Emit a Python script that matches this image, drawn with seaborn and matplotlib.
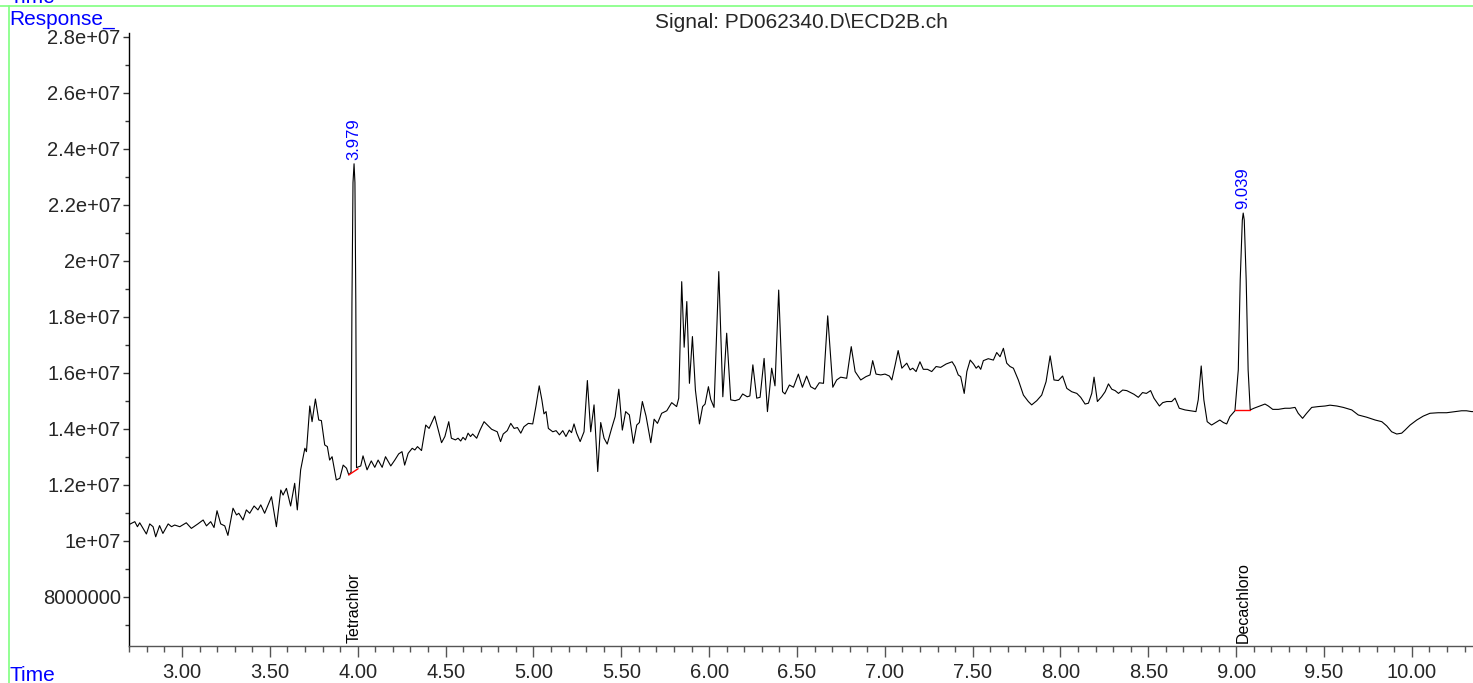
import numpy as np
import pandas as pd
import matplotlib
matplotlib.use("Agg")
import matplotlib.pyplot as plt
import matplotlib.ticker as mticker
import matplotlib.transforms as mtransforms
from matplotlib.lines import Line2D
import seaborn as sns

# Chromatogram trace: time (min) and response (millions)
tiempo = [
    2.693, 2.731, 2.746, 2.759, 2.778, 2.797, 2.816, 2.835, 2.850, 2.872,
    2.891, 2.921, 2.940, 2.958, 2.987, 3.024, 3.053, 3.090, 3.120, 3.139,
    3.163, 3.182, 3.199, 3.220, 3.243, 3.261, 3.290, 3.310, 3.323, 3.347,
    3.366, 3.385, 3.410, 3.432, 3.448, 3.470, 3.509, 3.537, 3.562, 3.575,
    3.594, 3.618, 3.641, 3.656, 3.675, 3.699, 3.708, 3.727, 3.740, 3.759,
    3.778, 3.793, 3.812, 3.827, 3.840, 3.854, 3.878, 3.898, 3.917, 3.936,
    3.949, 3.962, 3.967, 3.973, 3.979, 3.984, 3.989, 3.993,
    4.017, 4.030, 4.053, 4.077, 4.097, 4.116, 4.139, 4.158, 4.188, 4.211,
    4.233, 4.252, 4.267, 4.287, 4.310, 4.325, 4.340, 4.363, 4.387, 4.406,
    4.438, 4.477, 4.496, 4.518, 4.533, 4.556, 4.571, 4.586, 4.599, 4.613,
    4.628, 4.642, 4.654, 4.677, 4.696, 4.719, 4.743, 4.762, 4.794, 4.813,
    4.828, 4.851, 4.871, 4.890, 4.909, 4.928, 4.946, 4.971, 4.996, 5.014,
    5.033, 5.048, 5.060, 5.072, 5.085, 5.110, 5.129, 5.148, 5.167, 5.185,
    5.204, 5.217, 5.231, 5.246, 5.266, 5.288, 5.307, 5.326, 5.345, 5.366,
    5.383, 5.402, 5.420, 5.445, 5.465, 5.486, 5.506, 5.525, 5.546, 5.569,
    5.588, 5.603, 5.620, 5.641, 5.668, 5.687, 5.706, 5.730, 5.759, 5.787,
    5.815, 5.827, 5.844, 5.858, 5.873, 5.888, 5.905, 5.922, 5.945, 5.963,
    5.977, 5.996, 6.009, 6.028, 6.055, 6.078, 6.100, 6.123, 6.148, 6.172,
    6.191, 6.217, 6.232, 6.249, 6.271, 6.290, 6.313, 6.332, 6.356, 6.375,
    6.396, 6.418, 6.432, 6.457, 6.480, 6.508, 6.531, 6.555, 6.578, 6.603,
    6.627, 6.651, 6.675, 6.704, 6.726, 6.749, 6.783, 6.809, 6.831, 6.863,
    6.893, 6.916, 6.931, 6.950, 6.977, 7.001, 7.026, 7.040, 7.059, 7.076,
    7.097, 7.125, 7.144, 7.159, 7.178, 7.200, 7.219, 7.243, 7.267, 7.292,
    7.318, 7.349, 7.383, 7.400, 7.418, 7.432, 7.452, 7.467, 7.486, 7.505,
    7.520, 7.533, 7.546, 7.561, 7.589, 7.618, 7.637, 7.656, 7.675, 7.694,
    7.713, 7.732, 7.760, 7.789, 7.817, 7.836, 7.865, 7.893, 7.918, 7.941,
    7.963, 7.988, 8.012, 8.036, 8.064, 8.093, 8.115, 8.140, 8.159, 8.178,
    8.191, 8.210, 8.234, 8.254, 8.273, 8.292, 8.311, 8.330, 8.354, 8.377,
    8.418, 8.443, 8.467, 8.489, 8.513, 8.532, 8.563, 8.582, 8.605, 8.633,
    8.652, 8.676, 8.709, 8.741, 8.771, 8.784, 8.801, 8.816, 8.835, 8.860,
    8.884, 8.907, 8.927, 8.946, 8.964, 8.993,
    9.012, 9.023, 9.035, 9.040, 9.046, 9.057, 9.068, 9.080,
    9.101, 9.135, 9.164, 9.183, 9.208, 9.240, 9.278, 9.306, 9.335, 9.353,
    9.378, 9.401, 9.430, 9.468, 9.506, 9.534, 9.573, 9.610, 9.658, 9.695,
    9.743, 9.791, 9.829, 9.857, 9.885, 9.914, 9.942, 9.961, 9.990, 10.028,
    10.065, 10.103, 10.150, 10.198, 10.246, 10.283, 10.311, 10.340, 10.360,
]

respuesta = [
    10.57, 10.69, 10.51, 10.65, 10.45, 10.25, 10.61, 10.51, 10.15, 10.55,
    10.27, 10.61, 10.51, 10.57, 10.51, 10.65, 10.45, 10.61, 10.75, 10.54,
    10.69, 10.48, 11.08, 10.61, 10.54, 10.20, 11.17, 10.93, 10.99, 10.75,
    11.11, 10.99, 11.25, 11.11, 11.29, 10.99, 11.58, 10.51, 11.82, 11.64,
    11.88, 11.25, 12.06, 11.11, 12.54, 13.31, 13.19, 14.82, 14.26, 15.07,
    14.32, 14.30, 13.43, 13.37, 12.89, 13.01, 12.18, 12.24, 12.71, 12.60,
    12.36, 12.45, 18.50, 22.80, 23.47, 22.80, 18.50, 12.62,
    12.68, 13.04, 12.54, 12.86, 12.63, 12.89, 12.63, 13.01, 12.68, 12.89,
    13.11, 13.19, 12.71, 13.13, 13.31, 13.25, 13.37, 13.23, 14.14, 14.02,
    14.46, 13.51, 13.73, 14.26, 13.67, 13.61, 13.67, 13.57, 13.70, 13.61,
    13.85, 13.73, 13.82, 13.67, 13.96, 14.26, 14.11, 13.99, 13.90, 13.55,
    13.82, 13.94, 14.20, 14.02, 14.05, 13.85, 14.08, 14.20, 14.18, 14.80,
    15.54, 15.04, 14.54, 14.62, 14.02, 13.90, 13.94, 13.79, 13.94, 13.73,
    13.96, 13.87, 14.18, 13.85, 13.55, 13.90, 15.73, 13.90, 14.86, 12.48,
    14.23, 13.67, 13.46, 14.02, 14.44, 15.42, 13.96, 14.62, 14.50, 13.49,
    14.14, 14.23, 14.98, 14.46, 13.51, 14.35, 14.20, 14.56, 14.65, 14.94,
    14.80, 15.10, 19.26, 16.92, 18.55, 15.63, 17.30, 15.39, 14.18, 14.80,
    14.89, 15.51, 15.06, 14.77, 19.62, 15.15, 17.42, 15.04, 15.01, 15.06,
    15.25, 15.15, 15.18, 16.29, 15.10, 15.13, 16.52, 14.62, 16.17, 15.54,
    18.96, 15.33, 15.25, 15.57, 15.49, 15.96, 15.49, 15.89, 15.51, 15.42,
    15.65, 15.63, 18.04, 15.49, 15.75, 15.85, 15.81, 16.94, 16.05, 15.75,
    15.87, 15.93, 16.44, 15.96, 15.93, 15.96, 15.89, 15.75, 16.29, 16.80,
    16.17, 16.35, 16.11, 16.17, 16.05, 16.40, 16.13, 16.13, 16.05, 16.23,
    16.20, 16.32, 16.40, 16.23, 15.93, 15.87, 15.27, 16.05, 16.46, 16.32,
    16.17, 16.25, 16.13, 16.44, 16.51, 16.46, 16.73, 16.58, 16.88, 16.35,
    16.23, 16.17, 15.75, 15.21, 14.98, 14.86, 15.01, 15.21, 15.69, 16.61,
    15.75, 15.73, 15.89, 15.45, 15.33, 15.27, 15.13, 14.89, 14.92, 15.27,
    15.85, 14.98, 15.15, 15.33, 15.61, 15.42, 15.37, 15.27, 15.39, 15.37,
    15.24, 15.13, 15.30, 15.27, 15.37, 15.10, 14.82, 14.94, 14.98, 14.98,
    15.10, 14.74, 14.68, 14.65, 14.62, 15.04, 16.25, 15.04, 14.26, 14.14,
    14.23, 14.32, 14.23, 14.18, 14.44, 14.65,
    16.11, 19.32, 21.46, 21.71, 21.46, 19.32, 16.11, 14.68,
    14.74, 14.82, 14.89, 14.82, 14.70, 14.70, 14.74, 14.74, 14.77, 14.56,
    14.38, 14.56, 14.77, 14.80, 14.82, 14.85, 14.82, 14.77, 14.68, 14.50,
    14.42, 14.32, 14.26, 14.11, 13.90, 13.82, 13.85, 13.96, 14.14, 14.32,
    14.46, 14.56, 14.58, 14.58, 14.62, 14.65, 14.65, 14.62, 14.62,
]

# Integrated peaks: retention time, apex response, baseline start/end, compound name
picos_tr = [3.979, 9.039]
picos_altura = [23.47, 21.71]
picos_nombre = ["Tetrachlor", "Decachloro"]
base_t0 = [3.949, 8.993]
base_t1 = [4.002, 9.079]
base_r0 = [12.36, 14.67]
base_r1 = [12.58, 14.67]

# Y tick values and the labels as printed by the instrument software
y_ticks = [8e6, 1e7, 1.2e7, 1.4e7, 1.6e7, 1.8e7, 2e7, 2.2e7, 2.4e7, 2.6e7, 2.8e7]
y_labels = ["8000000", "1e+07", "1.2e+07", "1.4e+07", "1.6e+07", "1.8e+07",
            "2e+07", "2.2e+07", "2.4e+07", "2.6e+07", "2.8e+07"]

df = pd.DataFrame({"Tiempo": tiempo, "Respuesta": np.array(respuesta) * 1e6})

sns.set_style("white")
plt.rcParams["font.family"] = ["Liberation Sans", "DejaVu Sans"]

W, H = 1473, 683
fig = plt.figure(figsize=(W / 100, H / 100), dpi=100)
ax = fig.add_axes([129 / W, 1 - 646 / H, (W - 129) / W, (646 - 33) / H])

sns.lineplot(data=df, x="Tiempo", y="Respuesta", ax=ax, color="black",
             linewidth=0.8, estimator=None, sort=False)

# baselines of integrated peaks
for i in range(len(picos_tr)):
    ax.plot([base_t0[i], base_t1[i]], [base_r0[i] * 1e6, base_r1[i] * 1e6],
            color="red", linewidth=1.0)

ax.set_xlim(2.698, 10.348)
ax.set_ylim(6.25e6, 28.14e6)

ax.spines["top"].set_visible(False)
ax.spines["right"].set_visible(False)
ax.spines["left"].set_color("black")
ax.spines["bottom"].set_color("#555555")
ax.spines["left"].set_linewidth(1.0)
ax.spines["bottom"].set_linewidth(1.0)

ax.xaxis.set_major_locator(mticker.MultipleLocator(0.5))
ax.xaxis.set_minor_locator(mticker.MultipleLocator(0.1))
ax.xaxis.set_major_formatter(mticker.FormatStrFormatter("%.2f"))
ax.tick_params(axis="x", which="major", direction="out", length=8, width=1,
               color="#555555", labelsize=14.5, pad=4, bottom=True)
ax.tick_params(axis="x", which="minor", direction="out", length=4, width=1,
               color="#555555", bottom=True)

ax.set_yticks(y_ticks)
ax.set_yticklabels(y_labels)
ax.yaxis.set_minor_locator(mticker.MultipleLocator(1e6))
ax.tick_params(axis="y", which="major", direction="out", length=4, width=1,
               color="#333333", labelsize=14.5, pad=2, left=True)
ax.tick_params(axis="y", which="minor", direction="out", length=3, width=1,
               color="#333333", left=True)
ax.set_xlabel("")
ax.set_ylabel("")
ax.grid(False)

# peak retention time labels and compound names
trans = mtransforms.blended_transform_factory(ax.transData, ax.transAxes)
for i in range(len(picos_tr)):
    ax.annotate("%.3f" % picos_tr[i], (picos_tr[i], picos_altura[i] * 1e6),
                xytext=(0, 3), textcoords="offset points", rotation=90,
                ha="center", va="bottom", color="#0000ff", fontsize=12)
    ax.text(picos_tr[i], 0.005, picos_nombre[i], transform=trans, rotation=90,
            ha="center", va="bottom", color="black", fontsize=11.5)

fig.text(801 / W, 1 - 28 / H, "Signal: PD062340.D\\ECD2B.ch", ha="center",
         va="baseline", fontsize=15)
fig.text(9 / W, 1 - 25 / H, "Response_", ha="left", va="baseline",
         color="#0000ff", fontsize=15)
# page header line above, mostly cut off by the page edge as in the report
fig.text(10 / W, 1 - 3 / H, "Time", ha="left", va="baseline",
         color="#0000ff", fontsize=15)
fig.text(10 / W, 2 / H, "Time", ha="left", va="baseline",
         color="#0000ff", fontsize=15)

# green frame of the report page
fig.add_artist(Line2D([0, 1], [1 - 6 / H, 1 - 6 / H], transform=fig.transFigure,
                      color="#80ff80", linewidth=1.2))
fig.add_artist(Line2D([9 / W, 9 / W], [0, 1 - 6 / H], transform=fig.transFigure,
                      color="#80ff80", linewidth=1.2))

fig.savefig("out.png", dpi=100)
plt.close(fig)
